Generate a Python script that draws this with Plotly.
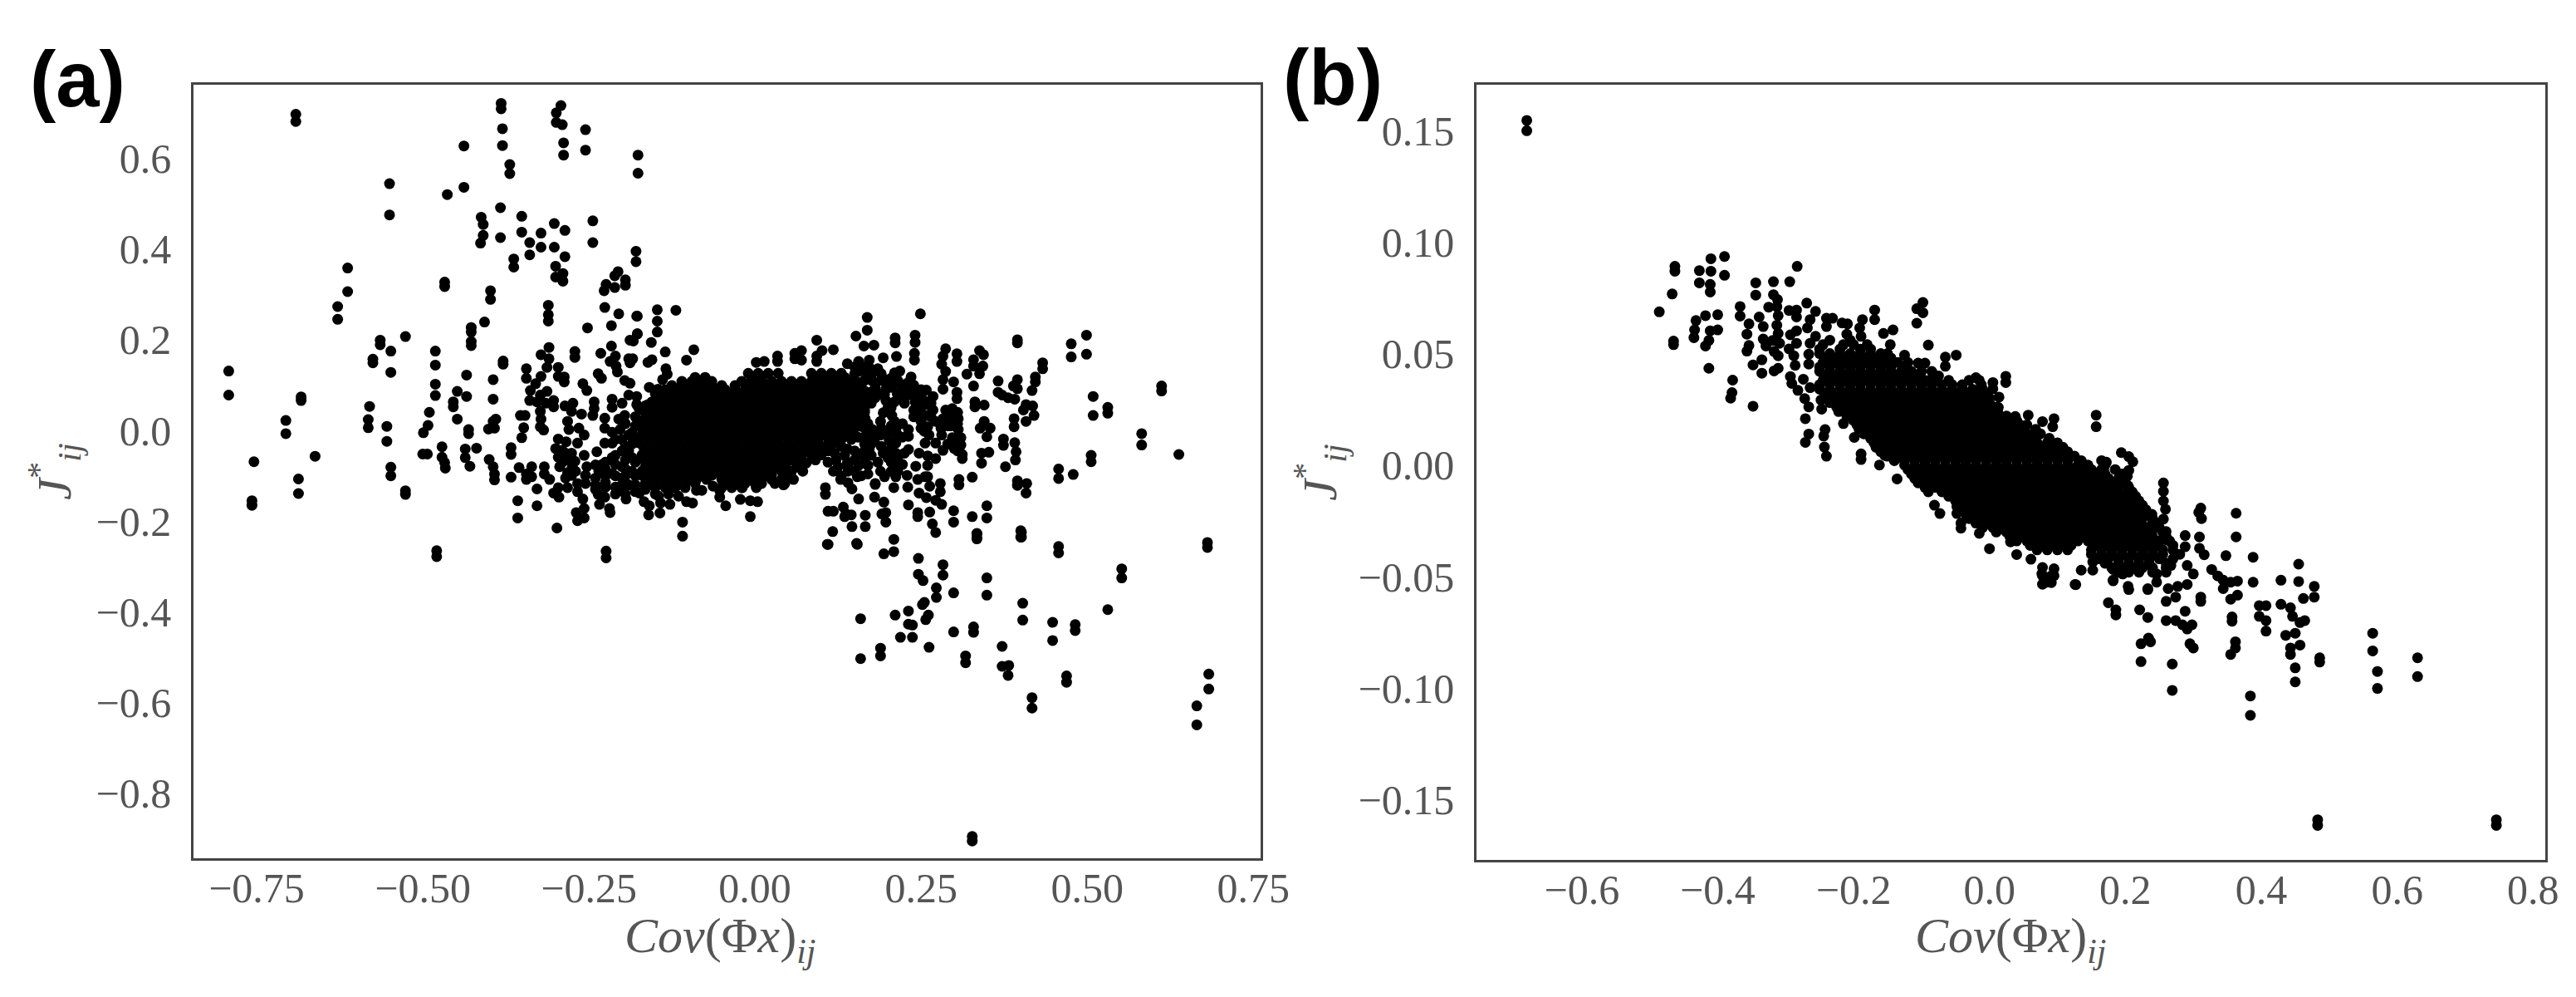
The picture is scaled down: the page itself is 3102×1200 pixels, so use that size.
import plotly.graph_objects as go

# ---------- panel (a): values, as (Cov, J) ----------
a_upper_left = [(-.691,.697),(-.691,.681),(-.382,.721),(-.382,.709),(-.380,.665),(-.380,.628),(-.292,.716),(-.299,.700),(-.299,.679),(-.290,.674),
(-.288,.634),(-.288,.607),(-.255,.663),(-.255,.618),(-.176,.607),(-.176,.567),(-.438,.627),(-.369,.586),(-.369,.566),(-.550,.544),(-.550,.475),
(-.438,.536),(-.463,.520),(-.383,.491),(-.383,.425),(-.412,.470),(-.409,.454),(-.409,.430),(-.413,.413),(-.351,.472),(-.351,.437),(-.302,.456),(-.286,.441),
(-.322,.435),(-.322,.404),(-.339,.414),(-.339,.387),(-.302,.404),(-.286,.383),(-.244,.462),(-.244,.414),(-.179,.395),(-.179,.372),(-.363,.378),(-.363,.360),
(-.300,.362),(-.300,.338),(-.289,.346),(-.289,.329),(-.206,.350),(-.211,.341),(-.195,.332),(-.195,.320),(-.211,.315),(-.224,.322),(-.227,.308),
(-.613,.358),(-.613,.306),(-.628,.273),(-.628,.245),(-.467,.327),(-.467,.317),(-.398,.308),(-.398,.289),(-.311,.276),(-.311,.255),(-.311,.241),
(-.226,.271),(-.205,.257),(-.216,.231),(-.177,.252),(-.177,.213),(-.147,.266),(-.147,.241),(-.147,.217),(-.252,.226),(-.407,.239),(-.427,.227),(-.427,.217),(-.427,.196),(-.427,.187),
(-.119,.265),(-.564,.199),(-.564,.189),(-.548,.175),(-.548,.128),(-.575,.157),(-.575,.149),(-.792,.131),(-.792,.078),(-.683,.074),(-.683,.066),
(-.580,.053),(-.582,.024),(-.582,.006),(-.706,.022),(-.706,-.007),(-.554,.009),(-.554,-.024),(-.754,-.069),(-.662,-.057),(-.687,-.107),(-.687,-.139),
(-.548,-.081),(-.548,-.100),(-.757,-.155),(-.757,-.165),(-.479,-.265),(-.479,-.278),(-.224,-.266),(-.224,-.281)]

a_left = [(-.526,.207),(-.526,-.133),(-.526,-.141),(-.481,.175),(-.481,.144),(-.481,.102),(-.481,.077),(-.490,.040),(-.492,.011),(-.499,-.005),(-.5,-.052),(-.493,-.052),
(-.434,.122),(-.394,.112),(-.448,.086),(-.434,.075),(-.394,.069),(-.454,.063),(-.454,.052),(-.448,.025),(-.390,.025),(-.394,.020),(-.401,.003),(-.392,.005),(-.431,.002),(-.431,-.007),
(-.471,-.036),(-.471,-.059),(-.467,-.071),(-.466,-.083),(-.436,-.041),(-.436,-.060),(-.419,-.039),(-.429,-.079),(-.400,-.064),(-.394,-.080),(-.392,-.096),(-.392,-.109),
(-.379,.153),(-.379,.146),(-.367,-.038),(-.367,-.053),(-.367,-.103),(-.353,.033),(-.346,.033),(-.348,.006),(-.351,-.016),(-.355,-.082),(-.344,.136),(-.344,.115),
(-.338,.088),(-.339,.066),(-.330,.103),(-.322,.119),(-.322,.167),(-.310,.183),(-.310,.158),(-.313,.139),(-.296,.139),(-.296,.119),(-.287,.118),(-.287,.107),
(-.313,.086),(-.323,.078),(-.328,.063),(-.315,.060),(-.303,.066),(-.303,.052),(-.323,.042),(-.322,.025),(-.323,.008),(-.318,.001),(-.271,.174),(-.271,.161),(-.232,.170),
(-.178,.252),(-.177,.213),(-.188,.199),(-.183,.197),(-.156,.194),(-.216,.186),(-.210,.164),(-.218,.152),(-.209,.142),(-.207,.129),(-.196,.110),(-.188,.104),
(-.190,.158),(-.184,.158),(-.188,.149),(-.161,.150),(-.155,.156),(-.135,.173),(-.092,.178),(-.103,.155),(-.134,.136),(-.132,.124),(-.139,.112),(-.236,.125),(-.231,.115),(-.259,.103),(-.253,.088),
(-.190,.078),(-.178,.075),(-.178,.057),(-.159,.095),(-.146,.091),(-.161,.057),(-.286,.054),(-.274,.060),(-.276,.042),(-.261,.036),(-.242,.063),(-.242,.048),(-.215,.069),(-.215,.051),(-.196,.033),(-.244,.033),(-.226,.027),
(-.282,.020),(-.280,.002),(-.265,.005),(-.257,-.010),(-.267,-.028),(-.226,.005),(-.215,-.004),(-.203,.002),(-.226,-.028),(-.215,-.028),
(-.296,-.019),(-.284,-.025),(-.290,-.044),(-.276,-.050),(-.296,-.059),(-.282,-.065),(-.294,-.080),(-.271,-.068),(-.282,-.093),(-.276,-.099),(-.257,-.055),(-.238,-.047),
(-.317,-.080),(-.317,-.096),(-.309,-.108),(-.336,-.080),(-.344,-.096),(-.344,-.108),(-.336,-.102),(-.328,-.129),(-.328,-.166),(-.357,-.155),(-.357,-.193),(-.298,-.215),
(-.303,-.138),(-.295,-.147),(-.296,-.126),(-.282,-.126),(-.267,-.117),(-.267,-.135),(-.255,-.117),(-.253,-.080),(-.240,-.076),(-.255,-.099),
(-.259,-.151),(-.257,-.172),(-.269,-.181),(-.267,-.199),(-.257,-.193),(-.240,-.120),(-.236,-.141),(-.226,-.147),(-.234,-.163),(-.219,-.172),(-.218,-.181),(-.194,-.151),
(-.174,-.138),(-.167,-.157),(-.159,-.166),(-.160,-.186),(-.143,-.182),(-.142,-.160),(-.128,-.163),(-.103,-.157),(-.094,-.160),(-.109,-.202),(-.109,-.233),(-.088,-.132),(-.080,-.132),(-.063,-.123),(-.044,-.166),
(-.215,-.060),(-.200,-.080),(-.215,-.095),(-.230,-.075),(-.200,-.105),(-.185,-.060),(-.185,-.090),(-.200,-.045),(-.185,-.030),(-.185,-.005),(-.190,-.120),(-.205,-.125),
(-.225,-.07),(-.21,-.055),(-.21,-.075),(-.21,-.1),(-.195,-.065),(-.195,-.085),(-.195,-.1),(-.18,-.07),(-.18,-.1),(-.18,-.12),(-.225,-.1),(-.225,-.115),(-.21,-.125),(-.195,-.125),
(-.18,.03),(-.18,.01),(-.19,-.01),(-.195,.015),(-.175,.05),(-.182,-.02),(-.19,-.045),
(-.3,-.04),(-.285,-.05),(-.29,-.07),(-.275,-.08),(-.285,-.105),(-.27,-.09),(-.235,-.09),(-.24,-.105),(-.225,-.085),(-.225,-.125),(-.24,-.13),(-.21,-.14),(-.195,-.14),(-.18,-.135),(-.165,-.13),(-.15,-.14),
(-.2,.06),(-.205,.025),(-.2,-.02),(-.21,-.02),(-.195,-.035),(-.13,-.14),(-.115,-.145),(-.145,-.145)]

a_right = [(.169,.249),(.169,.221),(.249,.257),(.152,.208),(.093,.199),(.118,.178),(.070,.176),(.060,.170),(.070,.155),(.060,.158),(.101,.176),(.093,.164),(.093,.152),(.034,.164),(.034,.152),(.002,.150),(.014,.152),
(.164,.186),(.179,.188),(.193,.160),(.211,.204),(.211,.193),(.213,.163),(.241,.210),(.241,.194),(.240,.170),(.240,.155),(.287,.180),(.283,.164),(.281,.146),(.287,.130),(.283,.112),(.283,.091),(.299,.107),
(.304,.169),(.304,.152),(.304,.084),(.304,.070),(.338,.176),(.344,.167),(.329,.156),(.329,.142),(.343,.142),(.319,.124),(.338,.125),(.329,.098),(.331,.063),(.331,.052),(.345,.056),
(.395,.200),(.395,.193),(.433,.149),(.433,.136),(.422,.118),(.422,.107),(.417,.088),(.366,.109),(.366,.084),(.372,.078),(.381,.072),(.391,.069),(.395,.112),(.389,.098),(.395,.092),
(.408,.057),(.418,.054),(.404,.045),(.420,.033),(.408,.020),(.390,.026),(.390,.008),(.345,.020),(.339,.005),(.354,.005),(.349,-.014),(.374,-.019),(.374,-.033),(.391,-.027),(.393,-.047),(.392,-.065),(.377,-.080),
(.341,-.050),(.352,-.048),(.341,-.072),(.312,-.053),(.312,-.062),(.327,-.103),(.307,-.108),(.307,-.120),(.395,-.111),(.395,-.121),(.409,-.117),(.408,-.138),(.349,-.166),(.349,-.193),(.327,-.190),(.299,-.177),(.299,-.202),
(.334,-.227),(.334,-.236),(.401,-.224),(.401,-.235),(.139,.147),(.156,.152),(.172,.155),(.185,.136),(.210,.127),(.218,.131),(.235,.118),(.239,.100),
(.156,.130),(.168,.124),(.160,.106),(.177,.109),(.197,.112),(.210,.106),(.222,.100),(.164,.088),(.181,.094),(.197,.091),(.214,.081),(.231,.078),
(.164,.069),(.181,.072),(.197,.066),(.210,.063),(.239,.078),(.241,.063),(.239,.045),(.239,.030),(.160,.045),(.166,.026),(.193,.039),(.206,.033),(.210,.020),(.189,.020),(.177,.002),(.164,-.016),
(.189,-.010),(.202,-.004),(.212,.002),(.202,-.022),(.212,-.028),(.212,-.050),(.214,-.077),(.212,-.102),(.231,-.013),(.231,.002),(.231,-.042),
(.258,.089),(.268,.075),(.260,.057),(.268,.045),(.260,.033),(.260,.008),(.262,-.010),(.283,.026),(.272,.020),(.287,.045),(.297,.048),(.306,.026),(.297,.026),(.306,.002),(.310,-.016),(.310,-.032),(.297,-.016),
(.281,-.010),(.272,-.028),(.283,-.044),(.256,-.028),(.260,-.056),(.272,-.062),(.260,-.077),(.242,-.079),(.256,-.102),(.193,-.050),(.189,-.090),(.195,-.102),(.181,-.117),(.170,-.077),(.170,-.096),
(.154,-.102),(.129,-.108),(.118,-.090),(.122,-.065),(.139,-.071),(.156,-.077),(.172,-.041),(.156,-.053),(.139,-.041),
(.229,-.099),(.245,-.108),(.260,-.102),(.209,-.126),(.230,-.125),(.247,-.138),(.258,-.148),(.263,-.123),(.279,-.117),(.279,-.135),(.272,-.154),(.281,-.163),
(.106,-.126),(.106,-.141),(.146,-.129),(.156,-.151),(.181,-.119),(.180,-.147),(.194,-.158),(.231,-.164),(.245,-.181),(.245,-.190),(.263,-.180),(.267,-.206),(.272,-.225),
(.110,-.178),(.118,-.178),(.133,-.169),(.137,-.184),(.145,-.186),(.135,-.190),(.166,-.187),(.166,-.212),(.146,-.212),(.191,-.184),(.197,-.181),(.197,-.202),(.117,-.223),(.110,-.251),(.153,-.249),(.209,-.240),
(-.007,-.190),(-.022,-.152),(-.007,-.155),(.004,-.157),(.002,-.126),(-.019,-.126),(.043,-.120),(.058,-.108),(.072,-.090),(.091,-.065),(-.053,-.132),(-.053,-.147),
(.175,.12),(.19,.125),(.205,.115),(.17,.075),(.2,.05),(.19,.005),(.175,-.03),(.19,-.035),(.2,-.06),(.185,-.07),(.175,-.055),(.22,.09),(.225,.06),(.222,.015),(.222,-.015),(.225,-.05),(.222,-.075),
(.25,.05),(.25,.02),(.25,.075),(.247,-.05),(.28,.005),(.29,.01),(.29,-.03),(.3,-.04),(.165,-.06),(.15,-.09),(.14,-.09),(.16,-.10),(.14,-.115),
(.15,.14),(.165,.14),(.15,.125),(.165,.11),(.15,.11),(.175,.135),(.19,.11),(.205,.095),(.19,.08),(.175,.085),(.15,.095),(.165,.055),(.175,.06),(.15,.06),(.195,.08),(.205,.05),(.22,.07),(.215,.11),(.23,.105),
(.205,.01),(.215,-.01),(.205,-.04),(.215,-.06),(.205,-.07),(.205,-.09),(.215,-.09),(.235,.09),(.245,.08),(.25,.09),(.245,.05),(.255,.065),(.245,.035),(.25,.005),(.255,-.002),(.265,.06),(.265,.03),
(.295,.04),(.305,.04),(.295,.01),(.305,.015),(.295,-.03),(.305,-.045),(.3,-.02),(.17,-.01),(.18,-.02),(.165,-.03),(.18,-.005),
(.12,-.05),(.135,-.055),(.15,-.065),(.125,-.08),(.14,-.08),(.11,-.07),(.13,-.10),(.15,-.045),(.165,-.045),
(.13,.0),(.145,-.005),(.155,-.015),(.145,-.02),(.13,-.02),(.13,-.035),(.15,.02),(.165,.005),(.155,.01),(.17,.015),(.145,.03),(.16,.03),(.15,.075),(.165,.04)]

a_lower_right = [(.109,-.251),(.154,-.251),(.209,-.267),(.194,-.272),(.246,-.282),(.283,-.296),(.283,-.319),(.246,-.317),(.253,-.331),(.349,-.325),(.349,-.363),(.273,-.347),(.273,-.368),(.299,-.358),
(.255,-.379),(.252,-.384),(.261,-.407),(.257,-.417),(.231,-.398),(.231,-.427),(.237,-.429),(.211,-.407),(.159,-.415),(.159,-.503),(.219,-.456),(.237,-.456),(.189,-.480),(.189,-.497),(.262,-.478),(.299,-.444),(.329,-.433),(.329,-.445),
(.317,-.497),(.317,-.512),(.372,-.476),(.372,-.520),(.382,-.518),(.381,-.540),(.403,-.381),(.403,-.418),(.448,-.423),(.448,-.463),(.482,-.428),(.482,-.441),(.531,-.395),(.552,-.305),(.552,-.325),(.457,-.256),(.457,-.270),
(.400,-.221),(.400,-.235),(.334,-.228),(.334,-.239),(.681,-.247),(.681,-.258),(.469,-.541),(.469,-.555),(.417,-.589),(.417,-.612),(.683,-.537),(.683,-.570),(.665,-.607),(.665,-.649),
(.476,.191),(.476,.162),(.499,.210),(.499,.168),(.509,.075),(.509,.033),(.531,.051),(.531,.038),(.612,.098),(.612,.087),(.582,-.007),(.582,-.032),(.638,-.053),(.457,-.085),(.457,-.106),(.479,-.097),(.506,-.055),(.506,-.069),
(.327,-.895),(.327,-.905)]

a_core_j = [.126,.117,.108,.099,.090,.081,.072,.063,.054,.045,.036,.027,.018,.009,0,-.009,-.018,-.027,-.036,-.045,-.054,-.063,-.072,-.081,-.090,-.099,-.108,-.117,-.126]
a_core_cov = [
[-.01,.005,.02,.035,.085,.10,.115,.13],
[-.09,-.075,-.005,.01,.09,.105,.12,.135],
[-.11,-.095,-.08,-.065,-.02,-.005,.01,.025,.04,.055,.07,.085,.10,.115,.13,.145],
[-.125,-.11,-.095,-.08,-.065,-.05,-.03,-.012,.003,.018,.033,.048,.063,.078,.093,.108,.123,.138,.153],
[-.135,-.12,-.105,-.09,-.075,-.06,-.045,-.03,-.015,0,.015,.03,.045,.06,.075,.09,.105,.12,.135,.15],
[-.15,-.135,-.12,-.105,-.09,-.075,-.06,-.045,-.03,-.015,0,.015,.03,.045,.06,.075,.09,.105,.12,.135,.15],
[-.143,-.128,-.113,-.098,-.083,-.068,-.053,-.038,-.023,-.008,.007,.022,.037,.052,.067,.082,.097,.112,.127,.142,.157],
[-.155,-.14,-.125,-.11,-.095,-.08,-.065,-.05,-.035,-.02,-.005,.01,.025,.04,.055,.07,.085,.10,.115,.13,.145,.16],
[-.165,-.15,-.135,-.12,-.105,-.09,-.075,-.06,-.045,-.03,-.015,0,.015,.03,.045,.06,.075,.09,.105,.12,.135,.15,.165],
[-.17,-.155,-.14,-.125,-.11,-.095,-.08,-.065,-.05,-.035,-.02,-.005,.01,.025,.04,.055,.07,.085,.10,.115,.13,.145,.165],
[-.158,-.143,-.128,-.113,-.098,-.083,-.068,-.053,-.038,-.023,-.008,.007,.022,.037,.052,.067,.082,.097,.112,.127,.142,.157],
[-.165,-.15,-.135,-.12,-.105,-.09,-.075,-.06,-.045,-.03,-.015,0,.015,.03,.045,.06,.075,.09,.105,.12,.135,.15,.16],
[-.17,-.155,-.14,-.125,-.11,-.095,-.08,-.065,-.05,-.035,-.02,-.005,.01,.025,.04,.055,.07,.085,.10,.115,.13,.145,.16],
[-.175,-.16,-.145,-.13,-.115,-.10,-.085,-.07,-.055,-.04,-.025,-.01,.005,.02,.035,.05,.065,.08,.095,.11,.125,.14,.155],
[-.163,-.148,-.133,-.118,-.103,-.088,-.073,-.058,-.043,-.028,-.013,.002,.017,.032,.047,.062,.077,.092,.107,.122,.137,.147],
[-.17,-.155,-.14,-.125,-.11,-.095,-.08,-.065,-.05,-.035,-.02,-.005,.01,.025,.04,.055,.07,.085,.10,.115,.135],
[-.175,-.16,-.145,-.13,-.115,-.10,-.085,-.07,-.055,-.04,-.025,-.01,.005,.02,.035,.05,.065,.08,.095,.11,.125],
[-.175,-.16,-.145,-.13,-.115,-.10,-.085,-.07,-.055,-.04,-.025,-.01,.005,.02,.035,.05,.065,.08,.095,.12],
[-.168,-.153,-.138,-.123,-.108,-.093,-.078,-.063,-.048,-.033,-.018,-.003,.012,.027,.042,.057,.072,.087,.102,.112],
[-.165,-.15,-.135,-.12,-.105,-.09,-.075,-.06,-.045,-.03,-.015,0,.015,.03,.045,.06,.075,.09,.11],
[-.17,-.155,-.14,-.125,-.11,-.095,-.08,-.065,-.05,-.035,-.02,-.005,.01,.025,.04,.055,.07,.085,.10],
[-.17,-.155,-.14,-.125,-.11,-.095,-.08,-.065,-.05,-.035,-.02,-.005,.01,.025,.04,.055,.07,.09],
[-.163,-.148,-.133,-.118,-.103,-.088,-.073,-.058,-.043,-.028,-.013,.002,.017,.032,.047,.062,.077],
[-.165,-.15,-.135,-.12,-.105,-.09,-.075,-.06,-.045,-.03,-.015,0,.015,.03,.045,.065],
[-.17,-.155,-.14,-.125,-.11,-.095,-.08,-.065,-.05,-.035,-.02,-.005,.01,.025,.04,.055],
[-.17,-.155,-.14,-.125,-.11,-.095,-.08,-.065,-.05,-.035,-.02,-.005,.01,.025,.05],
[-.163,-.148,-.133,-.118,-.103,-.088,-.073,-.05,-.035,-.02,-.005,.01,.025,.04],
[-.165,-.15,-.135,-.12,-.105,-.09,-.045,-.03,-.015,0,.01,.03,.045],
[-.165,-.15,-.135,-.12,-.105,-.05,-.035,-.02],
]

# ---------- panel (b) ----------
b_upper_left = [(-.681,.1545),(-.681,.1499),(-.486,.0687),(-.463,.0891),(-.463,.0869),(-.467,.0767),(-.465,.0556),(-.465,.0540),(-.427,.0872),(-.427,.0817),(-.410,.0925),(-.410,.0869),(-.390,.0935),(-.390,.0851),(-.411,.0810),(-.411,.0776),
(-.418,.0670),(-.400,.0674),(-.432,.0648),(-.434,.0606),(-.435,.0571),(-.411,.0602),(-.400,.0606),(-.413,.0559),(-.418,.0534),(-.413,.0434),(-.378,.0381),(-.379,.0325),(-.381,.0300),(-.348,.0264),
(-.344,.0817),(-.344,.0762),(-.318,.0822),(-.294,.0822),(-.283,.0891),(-.367,.0711),(-.367,.0668),(-.318,.0764),(-.312,.0742),(-.325,.0708),(-.313,.0710),(-.354,.0633),(-.339,.0664),(-.333,.0621),
(-.357,.0587),(-.354,.0536),(-.357,.0511),(-.333,.0565),(-.329,.0534),(-.335,.0472),(-.348,.0449),(-.335,.0412),(-.317,.0422),(-.311,.0434),(-.311,.0670),(-.313,.0627),(-.311,.0590),(-.319,.0559),(-.309,.0546),(-.317,.0509),(-.311,.0490),
(-.295,.0693),(-.284,.0695),(-.284,.0664),(-.284,.0602),(-.293,.0584),(-.284,.0546),(-.295,.0521),(-.288,.0490),(-.286,.0447),(-.269,.0726),(-.256,.0689),(-.264,.0652),(-.268,.0615),(-.256,.0577),(-.264,.0546),(-.266,.0497),(-.266,.0453),
(-.293,.0397),(-.291,.0366),(-.282,.0335),(-.274,.0385),(-.272,.0298),(-.264,.0347),(-.248,.0292),(-.266,.0261),(-.247,.0251),(-.271,.0208),(-.266,.0139),(-.271,.0102),(-.242,.0159),(-.244,.0130),(-.243,.0081),(-.240,.0040),(-.215,.0186),
(-.240,.0658),(-.231,.0658),(-.240,.0621),(-.217,.0637),(-.209,.0633),(-.210,.0587),(-.187,.0652),(-.169,.0695),(-.169,.0652),(-.191,.0615),(-.189,.0577),(-.156,.0590),(-.142,.0606),(-.146,.0540),(-.090,.0538),(-.125,.0493),
(-.098,.0729),(-.107,.0701),(-.098,.0683),(-.107,.0636),(-.065,.0484),(-.065,.0443),(-.049,.0493),(-.105,.0457),(-.095,.0457),(-.083,.0397),(-.136,-.0062),(-.189,.0050),(-.189,.0025),(-.162,.0000),(-.154,.0043),(-.199,.0124)]

b_upper_right = [(-.020,.0392),(.005,.0370),(.005,.0342),(.024,.0398),(.024,.0370),(.014,.0305),(.013,.0259),(.038,.0218),(.040,.0168),(.057,.0224),(.078,.0195),(.095,.0208),(.093,.0172),(.157,.0224),(.157,.0172),
(.194,.0056),(.205,.0038),(.211,.0015),(.172,.0013),(.168,-.0024),(.205,-.0024),(.203,-.0049),(.204,-.0093),(.203,-.0124),(.256,-.0080),(.256,-.0118),(.256,-.0161),(.259,-.0198),(.256,-.0242),(.239,-.0221),
(.288,-.0316),(.288,-.0366),(.239,-.0267),(.239,-.0298),(.260,-.0298),(.260,-.0335),(-.081,-.0180),(-.073,-.0217),(-.048,-.0186),(-.048,-.0217),(-.042,-.0260),(-.042,-.0283),(-.015,-.0306),(0,-.0375),(.040,-.0401),(.031,-.0344),(.061,-.0422),
(.078,-.0534),(.091,-.0527),(.078,-.0496),(.095,-.0496),(.078,-.0459),(.095,-.0465),(.127,-.0536),(.135,-.0471),(.152,-.0471),(.152,-.0434),(.182,-.0519),(.205,-.0558),(.233,-.0558)]

b_lower_right = [(.311,-.0193),(.308,-.0212),(.312,-.0240),(.363,-.0216),(.363,-.0322),(.309,-.0322),(.309,-.0373),(.316,-.0402),(.348,-.0406),(.388,-.0413),(.388,-.0525),
(.327,-.0468),(.336,-.0497),(.344,-.0516),(.355,-.0525),(.365,-.0520),(.344,-.0554),(.355,-.0601),(.365,-.0583),(.311,-.0592),(.311,-.0611),
(.291,-.0450),(.300,-.0488),(.291,-.0535),(.277,-.0544),(.263,-.0554),(.260,-.0611),(.274,-.0592),(.260,-.0697),(.274,-.0697),(.288,-.0655),(.284,-.0716),(.298,-.0716),(.291,-.0735),(.295,-.0801),(.300,-.0820),
(.357,-.0681),(.357,-.0700),(.362,-.0792),(.362,-.0820),(.355,-.0849),(.429,-.0516),(.455,-.0444),(.455,-.0522),(.478,-.0544),(.478,-.0592),(.462,-.0598),
(.397,-.0630),(.407,-.0630),(.397,-.0678),(.407,-.0697),(.407,-.0744),(.429,-.0624),(.443,-.0640),(.446,-.0678),(.457,-.0706),(.464,-.0697),(.436,-.0763),(.450,-.0754),(.457,-.0807),(.443,-.0820),(.443,-.0849),
(.486,-.0864),(.486,-.0883),(.450,-.0909),(.450,-.0972),(.564,-.0754),(.564,-.0833),(.571,-.0925),(.571,-.1001),(.630,-.0864),(.630,-.0948),(.384,-.1035),(.384,-.1122),(.269,-.0892),(.269,-.1010),
(.223,-.0801),(.237,-.0792),(.223,-.0881),(.234,-.0776),(.175,-.0617),(.186,-.0649),(.186,-.0672),(.221,-.0649),(.233,-.0683),(.483,-.1590),(.483,-.1615),(.746,-.1590),(.746,-.1615),
(.182,-.0516),(.204,-.0544),(.233,-.0554),(.126,-.0535),(.084,-.0525),(.077,-.0487),(.091,-.0497),(.182,-.0468),(.196,-.0488),(.246,-.0488),(.267,-.0450),(.246,-.0525)]

b_core_j = [.056,.054,.052,.050,.048,.046,.044,.042,.040,.038,.036,.034,.032,.030,.028,.026,.024,.022,.020,.018,.016,.014,.012,.010,.008,.006,.004,.002,0,
            -.002,-.004,-.006,-.008,-.010,-.012,-.014,-.016,-.018,-.020,-.022,-.024,-.026,-.028,-.030,-.032,-.034,-.036,-.038,-.040,-.042,-.044,-.046,-.048]
b_core_cov = [
[-.235,-.205],
[-.245,-.215,-.2,-.18],
[-.25,-.22,-.19,-.175],
[-.25,-.235,-.22,-.205,-.19,-.175,-.16,-.15],
[-.24,-.225,-.21,-.195,-.18,-.165,-.145],
[-.245,-.23,-.215,-.2,-.185,-.17,-.155,-.135,-.12],
[-.25,-.235,-.22,-.205,-.19,-.175,-.16,-.145,-.125],
[-.25,-.235,-.22,-.205,-.19,-.175,-.16,-.145,-.13,-.115,-.1,-.085],
[-.242,-.227,-.212,-.197,-.182,-.167,-.152,-.137,-.122,-.107,-.075],
[-.245,-.23,-.215,-.2,-.185,-.17,-.155,-.14,-.125,-.11,-.095,-.08,-.06,-.03,-.015],
[-.25,-.235,-.22,-.205,-.19,-.175,-.16,-.145,-.13,-.115,-.10,-.085,-.07,-.055,-.04,-.012],
[-.25,-.235,-.22,-.205,-.19,-.175,-.16,-.145,-.13,-.115,-.10,-.085,-.07,-.055,-.04,-.025,-.01],
[-.242,-.227,-.212,-.197,-.182,-.167,-.152,-.137,-.122,-.107,-.092,-.077,-.062,-.047,-.032,-.017,-.005],
[-.24,-.225,-.21,-.195,-.18,-.165,-.15,-.135,-.12,-.105,-.09,-.075,-.06,-.045,-.03,-.015,0],
[-.235,-.22,-.205,-.19,-.175,-.16,-.145,-.13,-.115,-.10,-.085,-.07,-.055,-.04,-.025,-.01,0],
[-.225,-.21,-.195,-.18,-.165,-.15,-.135,-.12,-.105,-.09,-.075,-.06,-.045,-.03,-.015,0,.01],
[-.222,-.207,-.192,-.177,-.162,-.147,-.132,-.117,-.102,-.087,-.072,-.057,-.042,-.027,-.012,.003,.012],
[-.21,-.195,-.18,-.165,-.15,-.135,-.12,-.105,-.09,-.075,-.06,-.045,-.03,-.015,0,.015,.025],
[-.20,-.185,-.17,-.155,-.14,-.125,-.11,-.095,-.08,-.065,-.05,-.035,-.02,-.005,.01,.025,.04],
[-.195,-.18,-.165,-.15,-.135,-.12,-.105,-.09,-.075,-.06,-.045,-.03,-.015,0,.015,.03,.045,.055],
[-.192,-.177,-.162,-.147,-.132,-.117,-.102,-.087,-.072,-.057,-.042,-.027,-.012,.003,.018,.033,.048,.068],
[-.185,-.17,-.155,-.14,-.125,-.11,-.095,-.08,-.065,-.05,-.035,-.02,-.005,.01,.025,.04,.055,.075],
[-.175,-.16,-.145,-.13,-.115,-.10,-.085,-.07,-.055,-.04,-.025,-.01,.005,.02,.035,.05,.065,.088],
[-.17,-.155,-.14,-.125,-.11,-.095,-.08,-.065,-.05,-.035,-.02,-.005,.01,.025,.04,.055,.07,.085,.10],
[-.167,-.152,-.137,-.122,-.107,-.092,-.077,-.062,-.047,-.032,-.017,-.002,.013,.028,.043,.058,.073,.088,.108],
[-.16,-.145,-.13,-.115,-.10,-.085,-.07,-.055,-.04,-.025,-.01,.005,.02,.035,.05,.065,.08,.095,.115],
[-.15,-.135,-.12,-.105,-.09,-.075,-.06,-.045,-.03,-.015,0,.015,.03,.045,.06,.075,.09,.105,.125],
[-.14,-.125,-.11,-.095,-.08,-.065,-.05,-.035,-.02,-.005,.01,.025,.04,.055,.07,.085,.10,.115,.135,.165],
[-.125,-.11,-.095,-.08,-.065,-.05,-.035,-.02,-.005,.01,.025,.04,.055,.07,.085,.10,.115,.13,.145,.17],
[-.12,-.105,-.09,-.075,-.06,-.045,-.03,-.015,0,.015,.03,.045,.06,.075,.09,.105,.12,.135,.15,.165,.185],
[-.115,-.10,-.085,-.07,-.055,-.04,-.025,-.01,.005,.02,.035,.05,.065,.08,.095,.11,.125,.14,.155,.17,.195],
[-.11,-.095,-.08,-.065,-.05,-.035,-.02,-.005,.01,.025,.04,.055,.07,.085,.10,.115,.13,.145,.16,.175,.19,.20],
[-.105,-.09,-.075,-.06,-.045,-.03,-.015,0,.015,.03,.045,.06,.075,.09,.105,.12,.135,.15,.165,.18,.20],
[-.095,-.08,-.065,-.05,-.035,-.02,-.005,.01,.025,.04,.055,.07,.085,.10,.115,.13,.145,.16,.175,.19,.205],
[-.09,-.07,-.055,-.04,-.025,-.01,.005,.02,.035,.05,.065,.08,.095,.11,.125,.14,.155,.17,.185,.21],
[-.06,-.045,-.03,-.015,0,.015,.03,.045,.06,.075,.09,.105,.12,.135,.15,.165,.18,.195,.215],
[-.05,-.035,-.02,-.005,.01,.025,.04,.055,.07,.085,.10,.115,.13,.145,.16,.175,.19,.205,.22],
[-.045,-.03,-.015,0,.015,.03,.045,.06,.075,.09,.105,.12,.135,.15,.165,.18,.195,.21,.225],
[-.04,-.025,-.01,.005,.02,.035,.05,.065,.08,.095,.11,.125,.14,.155,.17,.185,.20,.215,.23],
[-.035,-.02,-.005,.01,.025,.04,.055,.07,.085,.10,.115,.13,.145,.16,.175,.19,.205,.22,.235],
[-.03,-.015,0,.015,.03,.045,.06,.075,.09,.105,.12,.135,.15,.165,.18,.195,.21,.225,.24],
[-.02,-.005,.01,.025,.04,.055,.07,.085,.10,.115,.13,.145,.16,.175,.19,.205,.22,.245],
[-.01,.005,.02,.035,.05,.065,.08,.095,.11,.125,.14,.155,.17,.185,.20,.215,.23,.25],
[.01,.025,.04,.055,.07,.085,.10,.115,.13,.145,.16,.175,.19,.205,.22,.235,.255],
[.03,.045,.06,.075,.09,.105,.12,.135,.15,.165,.18,.195,.21,.225,.24,.26],
[.04,.055,.07,.085,.10,.115,.13,.145,.16,.175,.19,.205,.22,.235,.25,.265],
[.06,.075,.09,.105,.12,.155,.17,.185,.20,.215,.23,.245,.27],
[.07,.085,.10,.115,.15,.165,.18,.195,.21,.225,.24,.255,.27],
[.15,.165,.18,.195,.21,.225,.24,.255,.28],
[.16,.175,.19,.205,.22,.235,.25,.27],
[.17,.19,.205,.22,.235,.26],
[.18,.195,.21,.225,.24,.26],
[.19,.205,.22,.24,.26],
]

a_xticks = [-0.75,-0.50,-0.25,0.00,0.25,0.50,0.75]
a_xlabels = ["−0.75","−0.50","−0.25","0.00","0.25","0.50","0.75"]
a_yticks = [-0.8,-0.6,-0.4,-0.2,0.0,0.2,0.4,0.6]
a_ylabels = ["−0.8","−0.6","−0.4","−0.2","0.0","0.2","0.4","0.6"]
b_xticks = [-0.6,-0.4,-0.2,0.0,0.2,0.4,0.6,0.8]
b_xlabels = ["−0.6","−0.4","−0.2","0.0","0.2","0.4","0.6","0.8"]
b_yticks = [-0.15,-0.10,-0.05,0.00,0.05,0.10,0.15]
b_ylabels = ["−0.15","−0.10","−0.05","0.00","0.05","0.10","0.15"]

x_title = "<i>Cov</i>(Φ<i>x</i>)<sub><i>ij</i></sub>"
y_title = "<i>J</i><sup>*</sup><sub><i>ij</i></sub>"

SERIF = "Liberation Serif"
GREY = "#555555"

def collect(point_groups, core_j, core_cov):
    xs, ys = [], []
    for group in point_groups:
        for c, j in group:
            xs.append(c); ys.append(j)
    for j, row in zip(core_j, core_cov):
        for c in row:
            xs.append(c); ys.append(j)
    return xs, ys

ax, ay = collect([a_upper_left, a_left, a_right, a_lower_right], a_core_j, a_core_cov)
bx, by = collect([b_upper_left, b_upper_right, b_lower_right], b_core_j, b_core_cov)

fig = go.Figure()
marker = dict(color="black", size=13, line=dict(width=0))
fig.add_trace(go.Scatter(x=ax, y=ay, mode="markers", marker=marker, xaxis="x", yaxis="y", showlegend=False))
fig.add_trace(go.Scatter(x=bx, y=by, mode="markers", marker=marker, xaxis="x2", yaxis="y2", showlegend=False))

W, H = 3102, 1200
def axis(dom, rng, ticks, labels, anchor, label_gap, title=None, standoff=0):
    d = dict(domain=dom, range=rng, tickmode="array", tickvals=ticks, ticktext=labels,
             anchor=anchor, showgrid=False, zeroline=False, showline=True, mirror=True, automargin=False,
             linecolor="#444444", linewidth=2.5, ticks="", ticklabelstandoff=label_gap,
             tickfont=dict(family=SERIF, size=50, color=GREY))
    if title:
        d["title"] = dict(text=title, standoff=standoff, font=dict(family=SERIF, size=58, color=GREY))
    return d

def label(text, px, py, family, size, color):
    return dict(text=text, x=px/W, y=1-py/H, xref="paper", yref="paper", showarrow=False,
                xanchor="center", yanchor="middle", font=dict(family=family, size=size, color=color))

fig.update_layout(
    width=W, height=H, autosize=False, margin=dict(l=0, r=0, t=0, b=0, pad=0, autoexpand=False),
    plot_bgcolor="white", paper_bgcolor="white",
    xaxis=axis([233/W, 1518/W], [-0.845, 0.761], a_xticks, a_xlabels, "y", -10),
    yaxis=axis([1-1033/H, 1-102/H], [-0.943, 0.762], a_yticks, a_ylabels, "x", 14, y_title, 12),
    xaxis2=axis([1778/W, 3065/W], [-0.755, 0.818], b_xticks, b_xlabels, "y2", -10),
    yaxis2=axis([1-1035/H, 1-102/H], [-0.177, 0.1705], b_yticks, b_ylabels, "x2", 14, y_title, 8),
    annotations=[
        label("<b>(a)</b>", 93, 96, "Liberation Sans", 94, "black"),
        label("<b>(b)</b>", 1605, 93, "Liberation Sans", 94, "black"),
        label(x_title, 867, 1130, SERIF, 60, GREY),
        label(x_title, 2421, 1130, SERIF, 60, GREY),
    ],
)
fig.write_html("out.html", config={"displayModeBar": False}, post_script="document.body.style.margin='0';")
